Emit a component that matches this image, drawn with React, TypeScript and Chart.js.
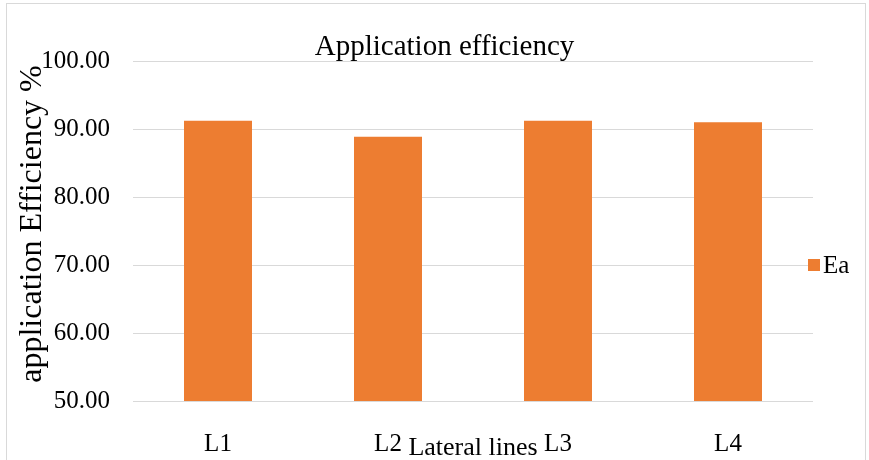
import { useEffect, useRef } from "react";
import { Chart, registerables } from "chart.js";

Chart.register(...registerables);

// Chart content
const categories = ["L1", "L2", "L3", "L4"];
const eaValues = [91.22, 88.85, 91.22, 91.0];
const yTickValues = [50, 60, 70, 80, 90, 100];
const seriesName = "Ea";
const chartTitle = "Application efficiency";
const xAxisTitle = "Lateral lines";
const yAxisTitle = "application Efficiency %";

const FONT = "'Liberation Serif', 'Times New Roman', serif";
const TEXT = "#000000";
const ORANGE = "#ED7D31";
const GRID = "#D9D9D9";

const W = 869;
const H = 460;

// Frame, titles and legend drawn around the plot area
const decorations = {
  id: "decorations",
  beforeDraw(chart: any) {
    const { ctx } = chart;
    ctx.save();
    ctx.fillStyle = "#ffffff";
    ctx.fillRect(0, 0, chart.width, chart.height);
    ctx.strokeStyle = GRID;
    ctx.lineWidth = 1;
    ctx.strokeRect(6.5, 3.5, chart.width - 10, chart.height + 20);
    ctx.restore();
  },
  afterDraw(chart: any) {
    const { ctx, chartArea } = chart;
    ctx.save();
    ctx.fillStyle = TEXT;

    // chart title
    ctx.font = `29px ${FONT}`;
    ctx.textAlign = "center";
    ctx.textBaseline = "alphabetic";
    ctx.fillText(chartTitle, chart.width / 2 + 10, 55);

    // x axis title
    ctx.font = `26px ${FONT}`;
    ctx.fillText(xAxisTitle, (chartArea.left + chartArea.right) / 2, chartArea.bottom + 54);

    // y axis title, rotated
    ctx.save();
    ctx.translate(33, 224);
    ctx.rotate(-Math.PI / 2);
    ctx.font = `32px ${FONT}`;
    ctx.textAlign = "center";
    ctx.textBaseline = "middle";
    ctx.fillText(yAxisTitle, 0, 0);
    ctx.restore();

    // legend
    const midY = (chartArea.top + chartArea.bottom) / 2 + 34;
    ctx.fillStyle = ORANGE;
    ctx.fillRect(chartArea.right - 5, midY - 6, 12, 12);
    ctx.fillStyle = TEXT;
    ctx.font = `25px ${FONT}`;
    ctx.textAlign = "left";
    ctx.textBaseline = "middle";
    ctx.fillText(seriesName, chartArea.right + 10, midY + 1);

    ctx.restore();
  },
};

export default function App() {
  const canvasRef = useRef<HTMLCanvasElement | null>(null);

  useEffect(() => {
    const canvas = canvasRef.current;
    if (!canvas) return;
    const chart = new Chart(canvas, {
      type: "bar",
      data: {
        labels: categories,
        datasets: [
          {
            label: seriesName,
            data: eaValues,
            backgroundColor: ORANGE,
            borderWidth: 0,
            categoryPercentage: 0.8,
            barPercentage: 0.5,
          },
        ],
      },
      options: {
        responsive: false,
        animation: false,
        devicePixelRatio: 1,
        layout: { padding: { left: 0, right: 56, top: 61, bottom: 0 } },
        plugins: {
          legend: { display: false },
          title: { display: false },
          tooltip: { enabled: false },
        },
        scales: {
          x: {
            grid: { display: false },
            border: { display: false },
            ticks: {
              color: TEXT,
              font: { family: FONT, size: 25 },
              padding: 20,
            },
            afterFit(scale: any) {
              scale.height = 59;
            },
          },
          y: {
            min: 50,
            max: 100,
            grid: { color: GRID, lineWidth: 1, drawTicks: false },
            border: { display: false },
            afterBuildTicks(scale: any) {
              scale.ticks = yTickValues.map((v) => ({ value: v }));
            },
            ticks: {
              color: TEXT,
              font: { family: FONT, size: 25 },
              padding: 23,
              callback: (v: any) => Number(v).toFixed(2),
            },
            afterFit(scale: any) {
              scale.width = 133;
            },
          },
        },
      },
      plugins: [decorations],
    });
    return () => chart.destroy();
  }, []);

  return (
    <div style={{ position: "absolute", left: 0, top: 0, width: W, height: H }}>
      <canvas ref={canvasRef} width={W} height={H} />
    </div>
  );
}
